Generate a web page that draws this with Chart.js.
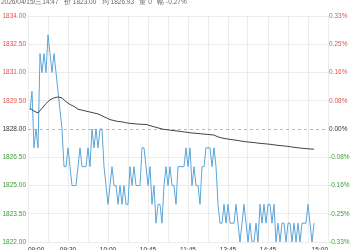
<!DOCTYPE html>
<html>
<head>
<meta charset="utf-8">
<script src="https://cdn.jsdelivr.net/npm/chart.js@4/dist/chart.umd.min.js"></script>
<style>
  html, body { margin: 0; padding: 0; background: #fff; }
</style>
</head>
<body>
<canvas id="chart" width="350" height="250"></canvas>
<script>
// --- DATA ---
const PREV_CLOSE = 1828;
const SESSION_MINUTES = 225;
const GRID_STEP = 15;
const headerText = "2026/04/15/三14:47   价 1823.00   均 1826.93   量 0   幅 -0.27%";

const priceTicks = [1822, 1823.5, 1825, 1826.5, 1828, 1829.5, 1831, 1832.5, 1834];
const pctLabels = ["-0.33%", "-0.25%", "-0.16%", "-0.08%", "0.00%", "0.08%", "0.16%", "0.25%", "0.33%"];
const timeTickMinutes = [0, 30, 60, 90, 120, 150, 180, 225];
const timeTickLabels = ["09:00", "09:30", "10:00", "10:45", "11:45", "13:45", "14:45", "15:00"];

// last price, sampled every 1.5 minutes
const priceStart = 1.5;
const priceStep = 1.5;
const prices = [
  1829, 1830, 1827, 1828, 1827, 1832, 1831, 1832, 1831, 1833,
  1832, 1831, 1832, 1831, 1830, 1829, 1828, 1826, 1826, 1827,
  1826, 1825, 1825, 1825, 1826, 1827, 1826, 1826, 1826, 1827,
  1826, 1828, 1827, 1828, 1827, 1828, 1828, 1826, 1825, 1824,
  1825, 1826, 1825, 1825, 1824, 1825, 1824, 1825, 1824, 1824,
  1826, 1825, 1826, 1825, 1825, 1825, 1827, 1827, 1826, 1825,
  1826, 1824, 1825, 1823, 1824, 1824, 1823, 1825, 1826, 1825,
  1826, 1825, 1825, 1824, 1826, 1826, 1826, 1826, 1827, 1826,
  1827, 1825, 1826, 1825, 1825, 1824, 1826, 1826, 1827, 1827,
  1827, 1826, 1827, 1826, 1824, 1823, 1823, 1824, 1823, 1824,
  1823, 1823, 1823, 1824, 1823, 1822, 1823, 1824, 1823, 1822,
  1823, 1822, 1822, 1823, 1822, 1824, 1823, 1824, 1823, 1824,
  1824, 1823, 1824, 1822, 1823, 1822, 1823, 1823, 1822, 1823,
  1823, 1822, 1823, 1822, 1823, 1822, 1823, 1823, 1823, 1824,
  1823, 1822, 1823
];

// average price, sampled every 3 minutes
const avgStart = 1.5;
const avgStep = 3;
const avgPrices = [
  1829.10, 1828.95, 1828.85, 1829.10, 1829.35, 1829.55, 1829.65, 1829.70, 1829.65, 1829.45,
  1829.30, 1829.20, 1829.05, 1829.00, 1828.95, 1828.90, 1828.85, 1828.80, 1828.70, 1828.60,
  1828.50, 1828.45, 1828.40, 1828.38, 1828.33, 1828.30, 1828.28, 1828.26, 1828.25, 1828.24,
  1828.18, 1828.12, 1828.06, 1828.00, 1827.97, 1827.94, 1827.91, 1827.89, 1827.86, 1827.83,
  1827.80, 1827.78, 1827.76, 1827.74, 1827.72, 1827.70, 1827.68, 1827.58, 1827.52, 1827.48,
  1827.45, 1827.42, 1827.39, 1827.35, 1827.32, 1827.30, 1827.28, 1827.25, 1827.23, 1827.21,
  1827.19, 1827.16, 1827.13, 1827.11, 1827.09, 1827.06, 1827.03, 1827.00, 1826.98, 1826.96,
  1826.94, 1826.93
];

// --- STYLE ---
const RED = "#e0544f";
const GREEN = "#3d9a3d";
const DARK = "#333";
const GRID = "#ececec";
const FONT = { family: "'Liberation Sans', Arial, sans-serif", size: 6.5 };

const tickColor = (ctx) => {
  const v = ctx.tick.value;
  if (v > PREV_CLOSE) return RED;
  if (v < PREV_CLOSE) return GREEN;
  return DARK;
};

const setPriceTicks = (scale) => {
  scale.ticks = priceTicks.map(v => ({ value: v }));
};

// dashed previous-close line + header text (cut off at the top, as in the source)
const refLinePlugin = {
  id: "refLine",
  beforeDatasetsDraw(chart) {
    const { ctx, chartArea, scales } = chart;
    const y = Math.round(scales.y.getPixelForValue(PREV_CLOSE)) + 0.5;
    ctx.save();
    ctx.strokeStyle = "#b8b8b8";
    ctx.lineWidth = 1;
    ctx.setLineDash([3, 3]);
    ctx.beginPath();
    ctx.moveTo(chartArea.left, y);
    ctx.lineTo(chartArea.right, y);
    ctx.stroke();
    ctx.restore();
  },
  afterDraw(chart) {
    const { ctx } = chart;
    ctx.save();
    ctx.font = "6.5px 'Liberation Sans', Arial, sans-serif";
    ctx.fillStyle = "#666";
    ctx.textBaseline = "alphabetic";
    ctx.fillText(headerText, 1, 3.5);
    ctx.restore();
  }
};

new Chart(document.getElementById("chart"), {
  type: "line",
  data: {
    datasets: [
      {
        label: "均价",
        data: avgPrices.map((p, i) => ({ x: avgStart + i * avgStep, y: p })),
        borderColor: "#444",
        borderWidth: 1,
        pointRadius: 0,
        tension: 0,
        yAxisID: "y"
      },
      {
        label: "价格",
        data: prices.map((p, i) => ({ x: priceStart + i * priceStep, y: p })),
        borderColor: "#5aa5d9",
        borderWidth: 1,
        pointRadius: 0,
        tension: 0,
        yAxisID: "y"
      }
    ]
  },
  options: {
    responsive: false,
    animation: false,
    events: [],
    layout: { padding: { top: 16, left: 0, right: 0, bottom: 0 } },
    plugins: { legend: { display: false }, tooltip: { enabled: false } },
    scales: {
      x: {
        type: "linear",
        min: 0,
        max: SESSION_MINUTES,
        afterBuildTicks: (scale) => {
          const ticks = [];
          for (let m = 0; m <= SESSION_MINUTES; m += GRID_STEP) ticks.push({ value: m });
          scale.ticks = ticks;
        },
        afterFit: (scale) => { scale.height = 8; },
        grid: { color: GRID, drawTicks: false },
        border: { display: false },
        ticks: {
          autoSkip: false,
          maxRotation: 0,
          align: "inner",
          padding: 4,
          color: DARK,
          font: FONT,
          callback: (v) => {
            const idx = timeTickMinutes.indexOf(v);
            return idx >= 0 ? timeTickLabels[idx] : "";
          }
        }
      },
      y: {
        position: "left",
        min: 1822,
        max: 1834,
        afterBuildTicks: setPriceTicks,
        afterFit: (scale) => { scale.width = 28; },
        grid: {
          drawTicks: false,
          color: (ctx) => ctx.tick && ctx.tick.value === PREV_CLOSE ? "rgba(0,0,0,0)" : GRID
        },
        border: { display: false },
        ticks: {
          padding: 2,
          font: FONT,
          color: tickColor,
          callback: (v) => Number(v).toFixed(2)
        }
      },
      y1: {
        position: "right",
        min: 1822,
        max: 1834,
        afterBuildTicks: setPriceTicks,
        afterFit: (scale) => { scale.width = 22; },
        grid: { display: false, drawTicks: false },
        border: { display: false },
        ticks: {
          padding: 1,
          font: FONT,
          color: tickColor,
          callback: (v) => pctLabels[priceTicks.indexOf(v)]
        }
      }
    }
  },
  plugins: [refLinePlugin]
});
</script>
</body>
</html>
